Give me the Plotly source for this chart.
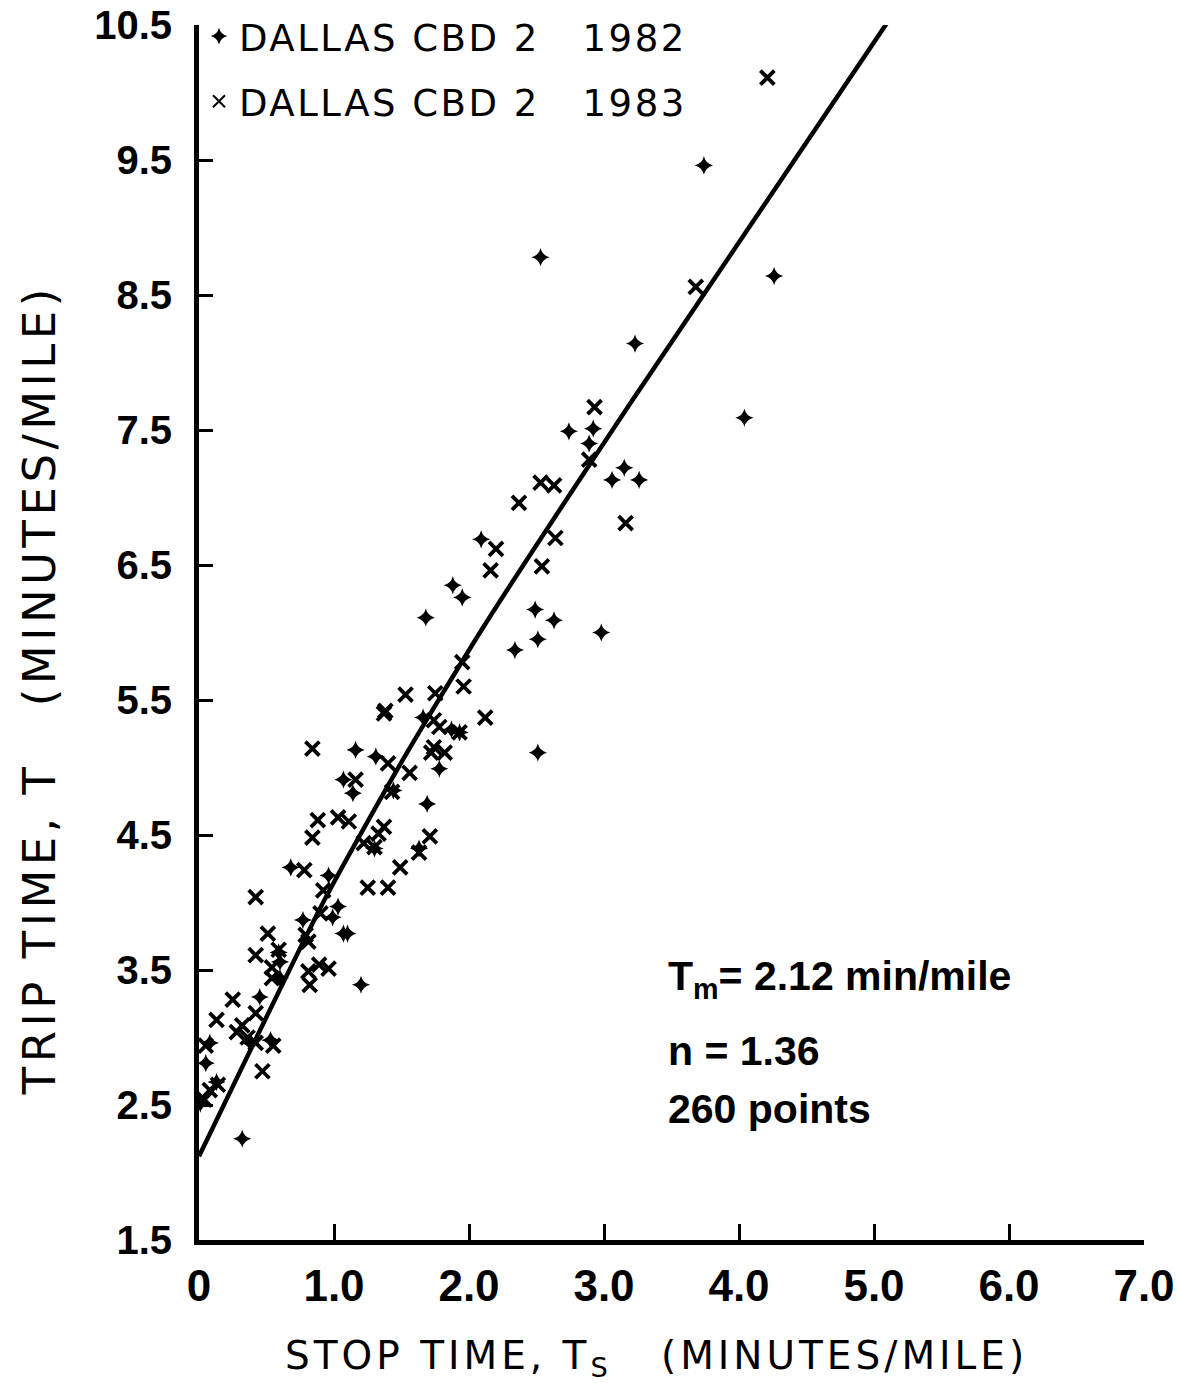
import plotly.graph_objects as go

# ---- data ----
ts_1982 = [3.74, 2.53, 4.26, 3.23, 4.04, 2.74, 2.92, 2.89, 3.15, 3.06, 3.26, 2.09, 1.88, 1.95,
           1.68, 2.49, 2.63, 2.51, 2.98, 2.34, 2.51, 1.66, 1.87, 1.93, 1.78, 1.31, 1.69, 1.16,
           1.07, 1.14, 1.63, 0.68, 0.96, 1.03, 0.99, 0.77, 1.07, 1.10, 0.59, 0.60, 0.60, 1.20,
           0.45, 0.38, 0.53, 0.08, 0.05, 0.13, 0.01, 0.32, 1.30, 1.44]
t_1982 = [9.46, 8.78, 8.64, 8.14, 7.59, 7.49, 7.51, 7.40, 7.22, 7.13, 7.13, 6.69, 6.35, 6.26,
          6.11, 6.17, 6.09, 5.95, 6.00, 5.87, 5.11, 5.37, 5.28, 5.26, 4.99, 5.08, 4.73, 5.13,
          4.91, 4.81, 4.40, 4.26, 4.20, 3.97, 3.89, 3.87, 3.77, 3.77, 3.63, 3.56, 3.44, 3.39,
          3.30, 2.96, 2.98, 2.96, 2.81, 2.67, 2.51, 2.25, 4.40, 4.83]

ts_1983 = [4.21, 3.68, 2.93, 2.89, 2.53, 2.63, 2.37, 3.16, 2.20, 2.64, 2.16, 2.54, 1.95, 1.96,
           1.75, 1.53, 2.12, 1.56, 1.37, 1.38, 1.78, 1.93, 1.74, 1.82, 1.72, 1.74, 1.40, 0.84,
           1.16, 1.43, 0.88, 1.03, 1.11, 0.84, 1.22, 1.33, 1.37, 1.30, 1.71, 1.63, 1.49, 0.78,
           1.25, 1.40, 0.42, 0.92, 0.90, 0.51, 0.79, 0.81, 0.42, 0.59, 0.54, 0.54, 0.81, 0.89,
           0.96, 0.82, 0.25, 0.13, 0.28, 0.32, 0.42, 0.36, 0.42, 0.55, 0.47, 0.05, 0.14, 0.08,
           0.04]
t_1983 = [10.11, 8.56, 7.67, 7.28, 7.11, 7.09, 6.96, 6.81, 6.62, 6.70, 6.46, 6.49, 5.78, 5.60,
          5.55, 5.54, 5.37, 4.96, 5.40, 5.42, 5.30, 5.26, 5.15, 5.11, 5.11, 5.35, 5.03, 5.14,
          4.91, 4.82, 4.61, 4.63, 4.60, 4.48, 4.44, 4.51, 4.56, 4.41, 4.49, 4.37, 4.26, 4.24,
          4.11, 4.11, 4.04, 4.09, 3.92, 3.77, 3.76, 3.71, 3.61, 3.65, 3.52, 3.44, 3.49, 3.54,
          3.51, 3.39, 3.28, 3.13, 3.04, 3.09, 3.18, 3.00, 2.96, 2.94, 2.75, 2.94, 2.65, 2.61,
          2.54]

# fitted two-fluid curve
line_ts = [0.0, 0.93, 1.50, 2.10, 3.21, 5.12]
line_t = [2.12, 4.02, 5.04, 6.03, 7.72, 10.55]

x_ticks = [0, 1, 2, 3, 4, 5, 6, 7]
x_tick_text = ["0", "1.0", "2.0", "3.0", "4.0", "5.0", "6.0", "7.0"]
y_ticks = [1.5, 2.5, 3.5, 4.5, 5.5, 6.5, 7.5, 8.5, 9.5, 10.5]
y_tick_text = ["1.5", "2.5", "3.5", "4.5", "5.5", "6.5", "7.5", "8.5", "9.5", "10.5"]

legend_1982 = "DALLAS CBD 2\u00a0\u00a0 1982"
legend_1983 = "DALLAS CBD 2\u00a0\u00a0 1983"
note_lines = ["T<sub>m</sub>= 2.12 min/mile", "n = 1.36", "260 points"]
x_title = "STOP TIME, T<sub>S</sub>\u00a0\u00a0 (MINUTES/MILE)"
y_title = "TRIP TIME, T\u00a0\u00a0 (MINUTES/MILE)"

NUMFONT = "Liberation Sans"
TXTFONT = "DejaVu Sans"


def spaced(txt, px):
    return '<span style="letter-spacing:%.1fpx">%s</span>' % (px, txt)


fig = go.Figure()
fig.add_trace(go.Scatter(
    x=line_ts, y=line_t, mode="lines", showlegend=False,
    line=dict(color="black", width=4.5, shape="spline", smoothing=0.6),
    hoverinfo="skip"))
fig.add_trace(go.Scatter(
    x=ts_1982, y=t_1982, mode="markers", name=spaced(legend_1982, 2.5), legendgroup="a",
    marker=dict(symbol="star-diamond", size=13, color="black", line=dict(width=0))))
fig.add_trace(go.Scatter(
    x=ts_1983, y=t_1983, mode="markers", name=spaced(legend_1983, 2.5), legendgroup="b",
    marker=dict(symbol="x-thin", size=14, color="black", line=dict(width=3.8, color="black"))))

note_y = [3.43, 2.90, 2.47]
for txt, yy in zip(note_lines, note_y):
    fig.add_annotation(x=3.46, y=yy, xref="x", yref="y", text=txt, showarrow=False,
                       xanchor="left", yanchor="middle",
                       font=dict(family=NUMFONT, size=41, color="black", weight="bold"))

# axis titles
fig.add_annotation(x=0.4836, y=-0.097, xref="paper", yref="paper", text=spaced(x_title, 4),
                   showarrow=False, xanchor="center", yanchor="middle",
                   font=dict(family=TXTFONT, size=39, color="black"))
fig.add_annotation(x=-0.168, y=0.4527, xref="paper", yref="paper", text=spaced(y_title, 4.5),
                   showarrow=False, xanchor="center", yanchor="middle", textangle=-90,
                   font=dict(family=TXTFONT, size=45, color="black"))

fig.update_layout(
    width=1179, height=1383,
    margin=dict(l=199, r=35, t=25, b=143, autoexpand=False),
    paper_bgcolor="white", plot_bgcolor="white",
    showlegend=True,
    legend=dict(x=0.0, y=1.016, xanchor="left", yanchor="top", bgcolor="rgba(0,0,0,0)",
                font=dict(family=TXTFONT, size=37, color="black"), tracegroupgap=14,
                itemsizing="constant"),
    xaxis=dict(range=[0, 7], tickvals=x_ticks, ticktext=x_tick_text,
               showgrid=False, zeroline=False, showline=True, linecolor="black", linewidth=5,
               ticks="inside", ticklen=16, tickwidth=2.5, tickcolor="black",
               ticklabelstandoff=3, automargin=False,
               tickfont=dict(family=NUMFONT, size=44, color="black", weight="bold")),
    yaxis=dict(range=[1.5, 10.5], tickvals=y_ticks, ticktext=y_tick_text,
               showgrid=False, zeroline=False, showline=True, linecolor="black", linewidth=5,
               ticks="inside", ticklen=14, tickwidth=2.5, tickcolor="black",
               ticklabelstandoff=14, automargin=False,
               tickfont=dict(family=NUMFONT, size=40, color="black", weight="bold")),
)

fig.write_html("out.html")
